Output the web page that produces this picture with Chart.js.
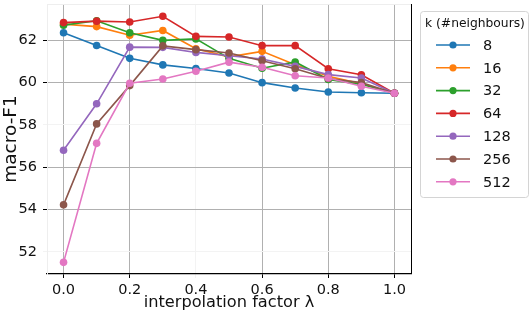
<!DOCTYPE html>
<html>
<head>
<meta charset="utf-8">
<script src="https://cdn.jsdelivr.net/npm/chart.js@4.4.0/dist/chart.umd.min.js"></script>
<style>
  html, body { margin: 0; padding: 0; background: #fff; }
  #wrap { width: 532px; height: 314px; }
</style>
</head>
<body>
<div id="wrap"><canvas id="chart" width="532" height="314"></canvas></div>
<script>
// ===== DATA =====
const lambdas = [0.0, 0.1, 0.2, 0.3, 0.4, 0.5, 0.6, 0.7, 0.8, 0.9, 1.0];
const kLabels = ["8", "16", "32", "64", "128", "256", "512"];
const f1K8   = [62.36, 61.76, 61.15, 60.84, 60.67, 60.46, 60.00, 59.75, 59.56, 59.52, 59.50];
const f1K16  = [62.77, 62.65, 62.24, 62.47, 61.60, 61.22, 61.48, 60.85, 60.30, 59.95, 59.50];
const f1K32  = [62.72, 62.93, 62.36, 62.00, 62.07, 61.15, 60.68, 60.98, 60.15, 59.92, 59.50];
const f1K64  = [62.84, 62.91, 62.87, 63.14, 62.19, 62.16, 61.75, 61.75, 60.66, 60.37, 59.50];
const f1K128 = [56.80, 59.00, 61.68, 61.67, 61.43, 61.27, 61.12, 60.77, 60.38, 60.22, 59.50];
const f1K256 = [54.22, 58.05, 59.86, 61.74, 61.56, 61.40, 61.04, 60.66, 60.20, 60.00, 59.50];
const f1K512 = [51.50, 57.13, 59.97, 60.17, 60.54, 60.97, 60.73, 60.33, 60.22, 59.83, 59.50];
const xTicks = [0.0, 0.2, 0.4, 0.6, 0.8, 1.0];
const yTicks = [52, 54, 56, 58, 60, 62];

const seriesList = [f1K8, f1K16, f1K32, f1K64, f1K128, f1K256, f1K512];
const colors = ["#1f77b4", "#ff7f0e", "#2ca02c", "#d62728", "#9467bd", "#8c564b", "#e377c2"];
const FONT = "'DejaVu Sans', sans-serif";

// grid lines that come out very pale in the reference
const paleX = [0.4];
const paleY = [52, 58];

// ===== PLUGINS =====
// right spine black, top spine pale
const spinePlugin = {
  id: "spines",
  afterDatasetsDraw(chart) {
    const { ctx, chartArea: a } = chart;
    ctx.save();
    ctx.lineWidth = 1;
    ctx.strokeStyle = "#000";
    ctx.beginPath();
    ctx.moveTo(Math.round(a.right) + 0.5, a.top);
    ctx.lineTo(Math.round(a.right) + 0.5, a.bottom);
    ctx.stroke();
    ctx.strokeStyle = "#eeeeee";
    ctx.beginPath();
    ctx.moveTo(a.left, Math.round(a.top) + 0.5);
    ctx.lineTo(a.right, Math.round(a.top) + 0.5);
    ctx.stroke();
    ctx.restore();
  }
};

// legend with line + marker samples
const legendPlugin = {
  id: "kLegend",
  afterDraw(chart) {
    const ctx = chart.ctx;
    ctx.save();
    ctx.beginPath();
    ctx.roundRect(420.5, 11.5, 108, 186, 3);
    ctx.fillStyle = "rgba(255,255,255,0.85)";
    ctx.fill();
    ctx.strokeStyle = "#d4d4d4";
    ctx.lineWidth = 1;
    ctx.stroke();

    ctx.fillStyle = "#111";
    ctx.textBaseline = "middle";
    ctx.font = "12.3px " + FONT;
    ctx.fillText("k (#neighbours)", 425, 24);

    ctx.font = "14.5px " + FONT;
    chart.data.datasets.forEach((ds, i) => {
      const y = 45 + i * 22.8;
      ctx.strokeStyle = ds.borderColor;
      ctx.lineWidth = ds.borderWidth;
      ctx.beginPath();
      ctx.moveTo(436, y);
      ctx.lineTo(470, y);
      ctx.stroke();
      ctx.fillStyle = ds.borderColor;
      ctx.beginPath();
      ctx.arc(453, y, 3.6, 0, Math.PI * 2);
      ctx.fill();
      ctx.fillStyle = "#111";
      ctx.fillText(ds.label, 483, y + 1);
    });
    ctx.restore();
  }
};

// ===== CHART =====
const datasets = seriesList.map((vals, i) => ({
  label: kLabels[i],
  data: lambdas.map((x, j) => ({ x: x, y: vals[j] })),
  borderColor: colors[i],
  backgroundColor: colors[i],
  borderWidth: 1.6,
  pointRadius: 3.8,
  pointBorderWidth: 0,
  pointBackgroundColor: colors[i],
  order: seriesList.length - i
}));

new Chart(document.getElementById("chart").getContext("2d"), {
  type: "line",
  data: { datasets },
  plugins: [spinePlugin, legendPlugin],
  options: {
    responsive: false,
    animation: false,
    devicePixelRatio: 1,
    layout: { padding: { top: 3, right: 121, left: 0, bottom: 0 } },
    plugins: { legend: { display: false }, tooltip: { enabled: false } },
    scales: {
      x: {
        type: "linear",
        min: -0.05,
        max: 1.05,
        afterBuildTicks: s => { s.ticks = xTicks.map(v => ({ value: v })); },
        afterFit: s => { s.height = 40; s.paddingLeft = 0; s.paddingRight = 0; },
        ticks: {
          autoSkip: false,
          maxRotation: 0,
          padding: 4,
          color: "#111",
          font: { family: FONT, size: 14.5 },
          callback: v => Number(v).toFixed(1)
        },
        grid: {
          color: c => paleX.includes(c.tick && c.tick.value) ? "#f3f3f3" : "#b0b0b0",
          tickColor: c => paleX.includes(c.tick && c.tick.value) ? "#f3f3f3" : "#000",
          lineWidth: 1,
          tickLength: 4
        },
        border: { color: "#000", width: 1.3 },
        title: {
          display: true,
          text: "interpolation factor λ",
          color: "#111",
          font: { family: FONT, size: 16.2 },
          padding: { top: 0, bottom: 1 }
        }
      },
      y: {
        min: 50.95,
        max: 63.72,
        afterBuildTicks: s => { s.ticks = yTicks.map(v => ({ value: v })); },
        afterFit: s => { s.width = 47; s.paddingTop = 0; s.paddingBottom = 0; },
        ticks: {
          padding: 6,
          color: "#111",
          font: { family: FONT, size: 14.5 },
          callback: v => String(v)
        },
        grid: {
          color: c => paleY.includes(c.tick && c.tick.value) ? "#f3f3f3" : "#b0b0b0",
          tickColor: c => paleY.includes(c.tick && c.tick.value) ? "#f3f3f3" : "#000",
          lineWidth: 1,
          tickLength: 4
        },
        border: { color: "#eeeeee", width: 1 },
        title: {
          display: true,
          text: "macro-F1",
          color: "#111",
          font: { family: FONT, size: 18.5 },
          padding: { top: 0, bottom: 0 }
        }
      }
    }
  }
});
</script>
</body>
</html>
